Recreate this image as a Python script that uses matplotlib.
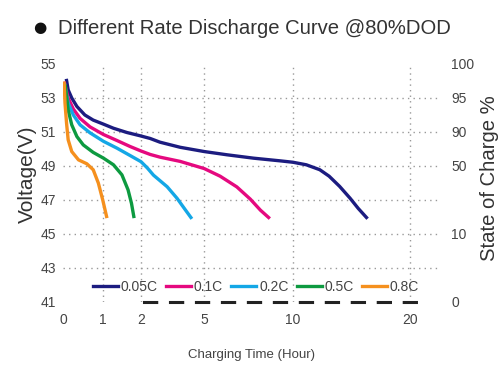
import numpy as np
import matplotlib
matplotlib.use("Agg")
import matplotlib.pyplot as plt

plt.rcParams['font.family'] = ['Liberation Sans', 'DejaVu Sans']

# discharge curves (hours, volts)
t_005 = [0.09, 0.13, 0.22, 0.35, 0.55, 0.76, 1.02, 1.28, 1.63, 1.97, 2.43, 2.9, 3.86,
         5.0, 6.28, 7.78, 9.3, 10.0, 11.15, 12.3, 13.1, 14.0, 14.9, 15.6, 16.3]
v_005 = [54.03, 53.48, 53.0, 52.5, 52.0, 51.7, 51.46, 51.22, 50.97, 50.78, 50.62, 50.4, 50.1,
         49.85, 49.66, 49.46, 49.3, 49.22, 49.07, 48.78, 48.4, 47.8, 47.1, 46.5, 45.97]

t_01 = [0.04, 0.13, 0.26, 0.43, 0.68, 1.02, 1.37, 1.71, 2.0, 2.43, 2.9, 3.86,
        5.0, 5.9, 6.84, 7.6, 8.17, 8.63]
v_01 = [53.87, 53.0, 52.35, 51.8, 51.3, 50.85, 50.5, 50.15, 49.88, 49.68, 49.52, 49.27,
        48.85, 48.4, 47.77, 47.05, 46.4, 45.97]

t_02 = [0.04, 0.13, 0.26, 0.43, 0.68, 1.02, 1.37, 1.71, 2.0, 2.3, 2.59, 3.24, 3.71, 4.1, 4.37]
v_02 = [53.8, 52.7, 52.0, 51.42, 50.95, 50.45, 50.05, 49.62, 49.25, 48.88, 48.46, 47.78, 47.1,
        46.43, 45.97]

t_05 = [0.06, 0.13, 0.22, 0.35, 0.51, 0.76, 1.02, 1.28, 1.5, 1.66, 1.75, 1.81]
v_05 = [53.7, 52.3, 51.42, 50.73, 50.24, 49.8, 49.46, 49.07, 48.48, 47.6, 46.8, 46.03]

t_08 = [0.03, 0.05, 0.09, 0.13, 0.22, 0.39, 0.6, 0.76, 0.89, 1.0, 1.1]
v_08 = [53.87, 52.7, 51.5, 50.54, 49.85, 49.36, 49.13, 48.78, 47.99, 47.0, 46.03]

series = [
    ('0.05C', t_005, v_005, '#1c1c80'),
    ('0.1C', t_01, v_01, '#e5097f'),
    ('0.2C', t_02, v_02, '#14a7e6'),
    ('0.5C', t_05, v_05, '#0d9a40'),
    ('0.8C', t_08, v_08, '#f5901e'),
]

x_ticks = [0, 1, 2, 5, 10, 20]
x_ticklabels = ['0', '1', '2', '5', '10', '20']
v_ticks = [41, 43, 45, 47, 49, 51, 53, 55]
soc_ticks = [41, 45, 49, 51, 53, 55]
soc_labels = ['0', '10', '50', '90', '95', '100']

# non-linear time axis used by the original chart
knots_h = [-1, 0, 1, 2, 5, 10, 20, 40]
knots_px = [-39.7, 0, 39.7, 78, 141, 229.7, 346.3, 579.5]

def fwd(x):
    return np.interp(x, knots_h, knots_px)

def inv(p):
    return np.interp(p, knots_px, knots_h)

fig = plt.figure(figsize=(5, 3.8), dpi=100)
ax = fig.add_axes([0.126, 0.2053, 0.754, 0.6263])
ax.set_xscale('function', functions=(fwd, inv))

for name, t, v, c in series:
    ax.plot(t, v, color=c, lw=2.4, label=name, solid_joinstyle='round')

ax.set_xlim(0, 22.6)
ax.set_ylim(41, 55)
ax.set_xticks(x_ticks)
ax.set_xticklabels(x_ticklabels)
ax.set_yticks(v_ticks)
ax.tick_params(length=0, labelsize=10, labelcolor='#444444')
ax.tick_params(axis='x', pad=8)
ax.tick_params(axis='y', pad=5)

ax.grid(True, color='#999999', lw=1, linestyle=(0, (1, 3)))
ax.get_xgridlines()[0].set_visible(False)
ax.get_ygridlines()[0].set_visible(False)
ax.get_ygridlines()[-1].set_visible(False)

for s in ['top', 'left', 'right']:
    ax.spines[s].set_visible(False)
ax.spines['bottom'].set_bounds(2.15, 20.6)
ax.spines['bottom'].set_linewidth(2.2)
ax.spines['bottom'].set_color('#222222')
ax.spines['bottom'].set_linestyle((0, (4, 4.5)))

ax.set_ylabel('Voltage(V)', fontsize=15, color='#333333')
ax.yaxis.set_label_coords(-0.07, 0.538)
ax.set_xlabel('Charging Time (Hour)', fontsize=9.5, color='#444444', labelpad=16)

ax2 = ax.twinx()
ax2.set_ylim(41, 55)
ax2.set_yticks(soc_ticks)
ax2.set_yticklabels(soc_labels)
ax2.tick_params(length=0, labelsize=10, labelcolor='#444444', pad=8)
for s in ax2.spines.values():
    s.set_visible(False)
ax2.set_ylabel('State of Charge %', fontsize=14.6, color='#333333')
ax2.yaxis.set_label_coords(1.106, 0.521)

leg = ax.legend(loc='center', bbox_to_anchor=(0.512, 0.063), ncol=5, frameon=False,
                handlelength=1.8, handletextpad=0.2, columnspacing=0.6,
                fontsize=10, borderaxespad=0)
for txt in leg.get_texts():
    txt.set_color('#444444')

fig.text(0.08, 1 - 28 / 380, '\u25cf', ha='center', va='center', fontsize=11,
         color='#111111', family='DejaVu Sans')
fig.text(0.116, 1 - 28 / 380, 'Different Rate Discharge Curve @80%DOD',
         ha='left', va='center', fontsize=14.6, color='#333333')

fig.savefig('out.png', dpi=100)
